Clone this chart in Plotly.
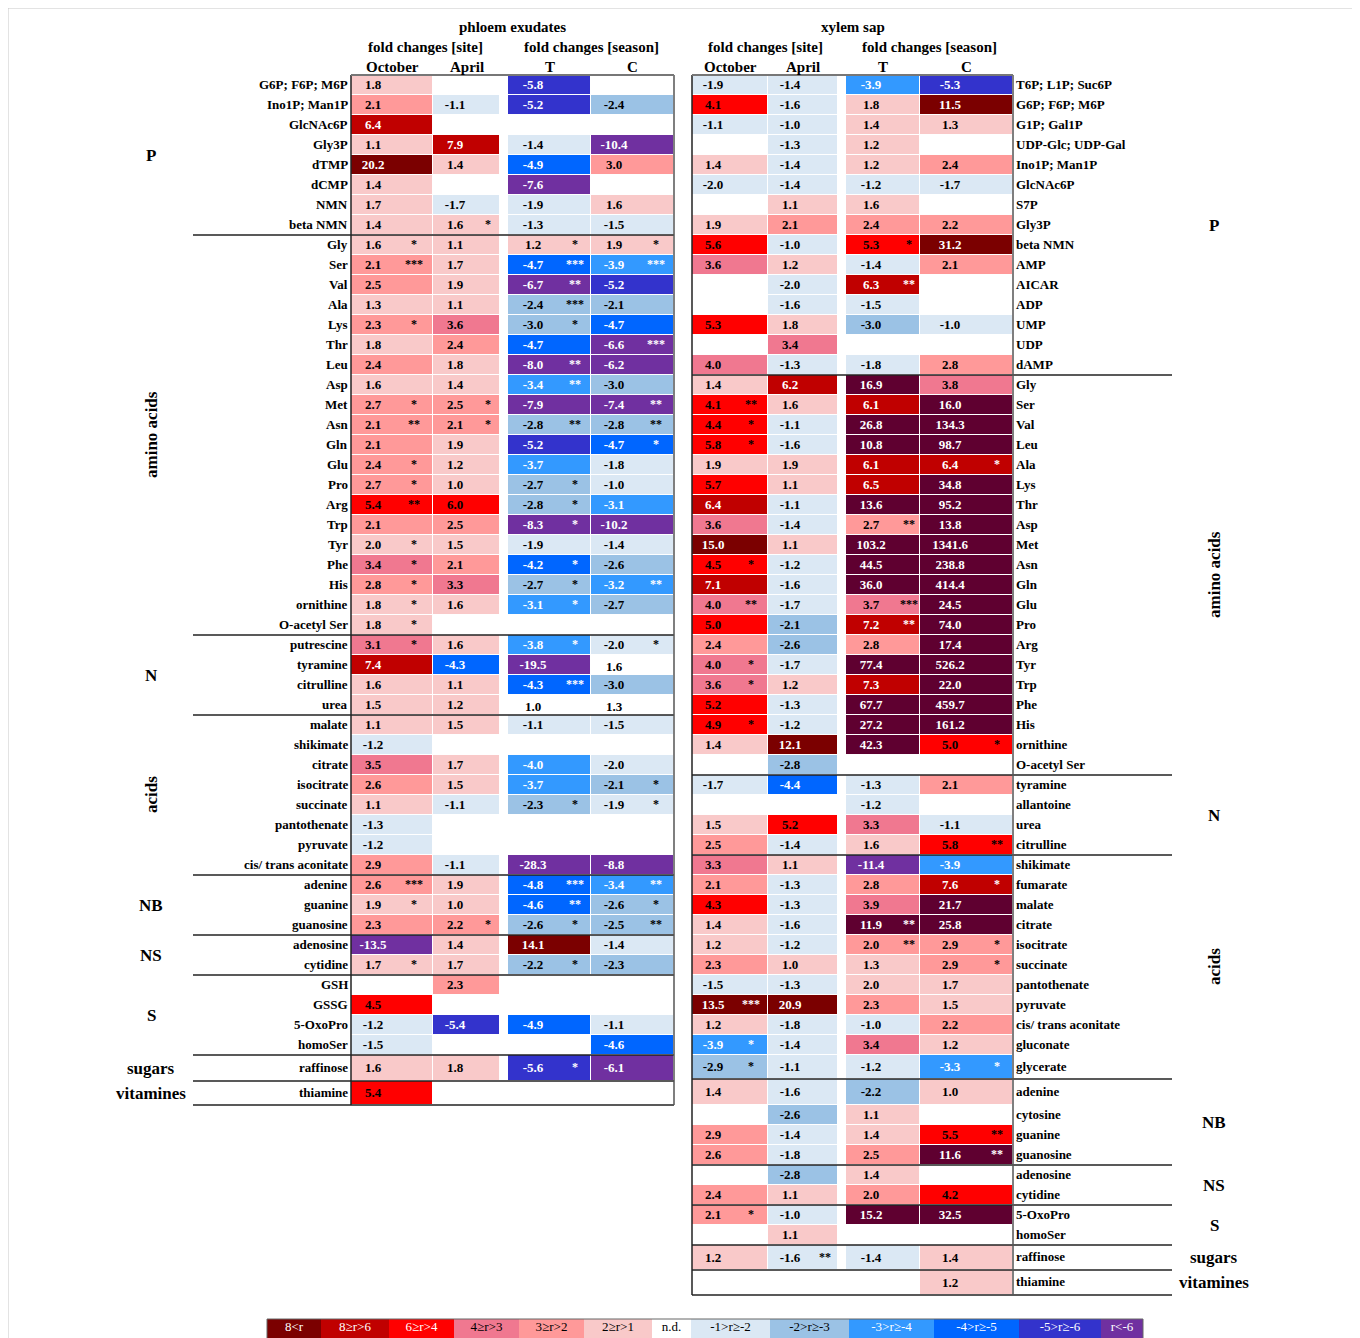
import plotly.graph_objects as go

# ============================ DATA ============================
columns = ["October", "April", "T", "C"]

# ---------- phloem exudates ----------
phloem_groups = ["P", "amino acids", "N", "acids", "NB", "NS", "S", "sugars", "vitamines"]
phloem_group_sizes = [8, 20, 4, 8, 3, 2, 4, 1, 1]
phloem_rows = [
    "G6P; F6P; M6P", "Ino1P; Man1P", "GlcNAc6P", "Gly3P", "dTMP", "dCMP", "NMN", "beta NMN",
    "Gly", "Ser", "Val", "Ala", "Lys", "Thr", "Leu", "Asp", "Met", "Asn", "Gln", "Glu", "Pro",
    "Arg", "Trp", "Tyr", "Phe", "His", "ornithine", "O-acetyl Ser",
    "putrescine", "tyramine", "citrulline", "urea",
    "malate", "shikimate", "citrate", "isocitrate", "succinate", "pantothenate", "pyruvate",
    "cis/ trans aconitate",
    "adenine", "guanine", "guanosine",
    "adenosine", "cytidine",
    "GSH", "GSSG", "5-OxoPro", "homoSer",
    "raffinose",
    "thiamine",
]
phloem_oct = [1.8, 2.1, 6.4, 1.1, 20.2, 1.4, 1.7, 1.4,
              1.6, 2.1, 2.5, 1.3, 2.3, 1.8, 2.4, 1.6, 2.7, 2.1, 2.1, 2.4, 2.7, 5.4, 2.1, 2.0, 3.4, 2.8, 1.8, 1.8,
              3.1, 7.4, 1.6, 1.5,
              1.1, -1.2, 3.5, 2.6, 1.1, -1.3, -1.2, 2.9,
              2.6, 1.9, 2.3,
              -13.5, 1.7,
              None, 4.5, -1.2, -1.5,
              1.6,
              5.4]
phloem_oct_sig = ["", "", "", "", "", "", "", "",
                  "*", "***", "", "", "*", "", "", "", "*", "**", "", "*", "*", "**", "", "*", "*", "*", "*", "*",
                  "*", "", "", "",
                  "", "", "", "", "", "", "", "",
                  "***", "*", "",
                  "", "*",
                  "", "", "", "",
                  "",
                  ""]
phloem_apr = [None, -1.1, None, 7.9, 1.4, None, -1.7, 1.6,
              1.1, 1.7, 1.9, 1.1, 3.6, 2.4, 1.8, 1.4, 2.5, 2.1, 1.9, 1.2, 1.0, 6.0, 2.5, 1.5, 2.1, 3.3, 1.6, None,
              1.6, -4.3, 1.1, 1.2,
              1.5, None, 1.7, 1.5, -1.1, None, None, -1.1,
              1.9, 1.0, 2.2,
              1.4, 1.7,
              2.3, None, -5.4, None,
              1.8,
              None]
phloem_apr_sig = ["", "", "", "", "", "", "", "*",
                  "", "", "", "", "", "", "", "", "*", "*", "", "", "", "", "", "", "", "", "", "",
                  "", "", "", "",
                  "", "", "", "", "", "", "", "",
                  "", "", "*",
                  "", "",
                  "", "", "", "",
                  "",
                  ""]
phloem_T = [-5.8, -5.2, None, -1.4, -4.9, -7.6, -1.9, -1.3,
            1.2, -4.7, -6.7, -2.4, -3.0, -4.7, -8.0, -3.4, -7.9, -2.8, -5.2, -3.7, -2.7, -2.8, -8.3, -1.9, -4.2, -2.7, -3.1, None,
            -3.8, -19.5, -4.3, 1.0,
            -1.1, None, -4.0, -3.7, -2.3, None, None, -28.3,
            -4.8, -4.6, -2.6,
            14.1, -2.2,
            None, None, -4.9, None,
            -5.6,
            None]
phloem_T_sig = ["", "", "", "", "", "", "", "",
                "*", "***", "**", "***", "*", "", "**", "**", "", "**", "", "", "*", "*", "*", "", "*", "*", "*", "",
                "*", "", "***", "",
                "", "", "", "", "*", "", "", "",
                "***", "**", "*",
                "", "*",
                "", "", "", "",
                "*",
                ""]
phloem_C = [None, -2.4, None, -10.4, 3.0, None, 1.6, -1.5,
            1.9, -3.9, -5.2, -2.1, -4.7, -6.6, -6.2, -3.0, -7.4, -2.8, -4.7, -1.8, -1.0, -3.1, -10.2, -1.4, -2.6, -3.2, -2.7, None,
            -2.0, 1.6, -3.0, 1.3,
            -1.5, None, -2.0, -2.1, -1.9, None, None, -8.8,
            -3.4, -2.6, -2.5,
            -1.4, -2.3,
            None, None, -1.1, -4.6,
            -6.1,
            None]
phloem_C_sig = ["", "", "", "", "", "", "", "",
                "*", "***", "", "", "", "***", "", "", "**", "**", "*", "", "", "", "", "", "", "**", "", "",
                "*", "", "", "",
                "", "", "", "*", "*", "", "", "",
                "**", "*", "**",
                "", "",
                "", "", "", "",
                "",
                ""]
# values printed without a coloured background (row, column)
phloem_unshaded = [("tyramine", "C"), ("urea", "T"), ("urea", "C")]

# ---------- xylem sap ----------
xylem_groups = ["P", "amino acids", "N", "acids", "NB", "NS", "S", "sugars", "vitamines"]
xylem_group_sizes = [15, 20, 4, 11, 4, 2, 2, 1, 1]
xylem_rows = [
    "T6P; L1P; Suc6P", "G6P; F6P; M6P", "G1P; Gal1P", "UDP-Glc; UDP-Gal", "Ino1P; Man1P", "GlcNAc6P",
    "S7P", "Gly3P", "beta NMN", "AMP", "AICAR", "ADP", "UMP", "UDP", "dAMP",
    "Gly", "Ser", "Val", "Leu", "Ala", "Lys", "Thr", "Asp", "Met", "Asn", "Gln", "Glu", "Pro",
    "Arg", "Tyr", "Trp", "Phe", "His", "ornithine", "O-acetyl Ser",
    "tyramine", "allantoine", "urea", "citrulline",
    "shikimate", "fumarate", "malate", "citrate", "isocitrate", "succinate", "pantothenate",
    "pyruvate", "cis/ trans aconitate", "gluconate", "glycerate",
    "adenine", "cytosine", "guanine", "guanosine",
    "adenosine", "cytidine",
    "5-OxoPro", "homoSer",
    "raffinose",
    "thiamine",
]
xylem_oct = [-1.9, 4.1, -1.1, None, 1.4, -2.0, None, 1.9, 5.6, 3.6, None, None, 5.3, None, 4.0,
             1.4, 4.1, 4.4, 5.8, 1.9, 5.7, 6.4, 3.6, 15.0, 4.5, 7.1, 4.0, 5.0, 2.4, 4.0, 3.6, 5.2, 4.9, 1.4, None,
             -1.7, None, 1.5, 2.5,
             3.3, 2.1, 4.3, 1.4, 1.2, 2.3, -1.5, 13.5, 1.2, -3.9, -2.9,
             1.4, None, 2.9, 2.6,
             None, 2.4,
             2.1, None,
             1.2,
             None]
xylem_oct_sig = ["", "", "", "", "", "", "", "", "", "", "", "", "", "", "",
                 "", "**", "*", "*", "", "", "", "", "", "*", "", "**", "", "", "*", "*", "", "*", "", "",
                 "", "", "", "",
                 "", "", "", "", "", "", "", "***", "", "*", "*",
                 "", "", "", "",
                 "", "",
                 "*", "",
                 "",
                 ""]
xylem_apr = [-1.4, -1.6, -1.0, -1.3, -1.4, -1.4, 1.1, 2.1, -1.0, 1.2, -2.0, -1.6, 1.8, 3.4, -1.3,
             6.2, 1.6, -1.1, -1.6, 1.9, 1.1, -1.1, -1.4, 1.1, -1.2, -1.6, -1.7, -2.1, -2.6, -1.7, 1.2, -1.3, -1.2, 12.1, -2.8,
             -4.4, None, 5.2, -1.4,
             1.1, -1.3, -1.3, -1.6, -1.2, 1.0, -1.3, 20.9, -1.8, -1.4, -1.1,
             -1.6, -2.6, -1.4, -1.8,
             -2.8, 1.1,
             -1.0, 1.1,
             -1.6,
             None]
xylem_apr_sig = [""] * 58 + ["**", ""]
xylem_T = [-3.9, 1.8, 1.4, 1.2, 1.2, -1.2, 1.6, 2.4, 5.3, -1.4, 6.3, -1.5, -3.0, None, -1.8,
           16.9, 6.1, 26.8, 10.8, 6.1, 6.5, 13.6, 2.7, 103.2, 44.5, 36.0, 3.7, 7.2, 2.8, 77.4, 7.3, 67.7, 27.2, 42.3, None,
           -1.3, -1.2, 3.3, 1.6,
           -11.4, 2.8, 3.9, 11.9, 2.04, 1.3, 2.0, 2.3, -1.0, 3.4, -1.2,
           -2.2, 1.1, 1.4, 2.5,
           1.4, 2.04,
           15.2, None,
           -1.4,
           None]
xylem_T_sig = ["", "", "", "", "", "", "", "", "*", "", "**", "", "", "", "",
               "", "", "", "", "", "", "", "**", "", "", "", "***", "**", "", "", "", "", "", "", "",
               "", "", "", "",
               "", "", "", "**", "**", "", "", "", "", "", "",
               "", "", "", "",
               "", "",
               "", "",
               "",
               ""]
xylem_C = [-5.3, 11.5, 1.3, None, 2.4, -1.7, None, 2.2, 31.2, 2.1, None, None, -1.0, None, 2.8,
           3.8, 16.0, 134.3, 98.7, 6.4, 34.8, 95.2, 13.8, 1341.6, 238.8, 414.4, 24.5, 74.0, 17.4, 526.2, 22.0, 459.7, 161.2, 5.0, None,
           2.1, None, -1.1, 5.8,
           -3.9, 7.6, 21.7, 25.8, 2.9, 2.9, 1.7, 1.5, 2.2, 1.2, -3.3,
           1.0, None, 5.5, 11.6,
           None, 4.2,
           32.5, None,
           1.4,
           1.2]
xylem_C_sig = ["", "", "", "", "", "", "", "", "", "", "", "", "", "", "",
               "", "", "", "", "*", "", "", "", "", "", "", "", "", "", "", "", "", "", "*", "",
               "", "", "", "**",
               "", "*", "", "", "*", "*", "", "", "", "", "*",
               "", "", "**", "**",
               "", "",
               "", "",
               "",
               ""]
xylem_unshaded = []

legend_labels = ["8<r", "8≥r>6", "6≥r>4", "4≥r>3", "3≥r>2", "2≥r>1", "n.d.",
                 "-1>r≥-2", "-2>r≥-3", "-3>r≥-4", "-4>r≥-5", "-5>r≥-6", "r<-6"]

# ============================ STYLE / LAYOUT ============================
FONT = "Liberation Serif"
# class 0 = extra dark shade used for very large season changes in xylem
CLASS_COLORS = ["#5F0030", "#7B0000", "#C00000", "#FF0000", "#F07890", "#FF9999", "#F9C9C9",
                "#FFFFFF", "#DBE8F4", "#9BC2E5", "#3399FF", "#0066FF", "#3333CC", "#7030A0"]
WHITE_TEXT = {0, 1, 2, 10, 11, 12, 13}
N_CLASSES = len(CLASS_COLORS)

colorscale = []
for k, c in enumerate(CLASS_COLORS):
    colorscale.append([k / N_CLASSES, c])
    colorscale.append([(k + 1) / N_CLASSES, c])


def value_class(v, dark_large=False):
    if v is None:
        return None
    if dark_large and v > 10:
        return 0
    if v > 8:
        return 1
    if v > 6:
        return 2
    if v > 4:
        return 3
    if v > 3:
        return 4
    if v > 2:
        return 5
    if v > 0:
        return 6
    if v >= -2:
        return 8
    if v >= -3:
        return 9
    if v >= -4:
        return 10
    if v >= -5:
        return 11
    if v >= -6:
        return 12
    return 13


TABLES = [
    dict(name="phloem exudates", rows=phloem_rows, groups=phloem_groups, sizes=phloem_group_sizes,
         vals=[phloem_oct, phloem_apr, phloem_T, phloem_C],
         sigs=[phloem_oct_sig, phloem_apr_sig, phloem_T_sig, phloem_C_sig],
         unshaded=phloem_unshaded, dark_large=False,
         col_edges=[351, 433, 500, 508, 591, 674], val_x=[373, 455, 533, 614], star_x=[414, 488, 575, 656],
         label_x=350, label_anchor="right", group_x=151, sep=(193, 674), tall={49: 26, 50: 24}),
    dict(name="xylem sap", rows=xylem_rows, groups=xylem_groups, sizes=xylem_group_sizes,
         vals=[xylem_oct, xylem_apr, xylem_T, xylem_C],
         sigs=[xylem_oct_sig, xylem_apr_sig, xylem_T_sig, xylem_C_sig],
         unshaded=xylem_unshaded, dark_large=True,
         col_edges=[692, 768, 838, 846, 920, 1013], val_x=[713, 790, 871, 950], star_x=[751, 825, 909, 997],
         label_x=1014, label_anchor="left", group_x=1214, sep=(692, 1172), tall={49: 24, 50: 26, 58: 25, 59: 25}),
]
TOP = 75
ROW_H = 20
PAGE_OFFSET = 8   # the page body margin shifts the figure by 8 px; compensate in the axis ranges

fig = go.Figure()
shapes = []
annotations = []


def ann(x, y, text, size, anchor="center", bold=True, angle=0, color="black"):
    annotations.append(dict(x=x, y=y, xref="x", yref="y", text=text, showarrow=False,
                            xanchor=anchor, yanchor="middle", textangle=angle,
                            font=dict(family=FONT, size=size, color=color,
                                      weight="bold" if bold else "normal")))


for t in TABLES:
    n = len(t["rows"])
    edges = [TOP]
    for i in range(n):
        edges.append(edges[-1] + t["tall"].get(i, ROW_H))
    centers = [(edges[i] + edges[i + 1]) / 2 for i in range(n)]
    groups_of_row = []
    for g, s in zip(t["groups"], t["sizes"]):
        groups_of_row += [g] * s

    # heatmap cells (column index 2 is the blank gap between site and season blocks)
    z = []
    for i in range(n):
        zr = []
        for j in range(4):
            v = t["vals"][j][i]
            season = j >= 2
            if (t["rows"][i], columns[j]) in t["unshaded"]:
                cls = None
            else:
                cls = value_class(v, t["dark_large"] and season and groups_of_row[i] != "P")
            zr.append(cls)
        zr.insert(2, None)
        z.append(zr)
    fig.add_trace(go.Heatmap(z=z, x=t["col_edges"], y=edges, colorscale=colorscale,
                             zmin=-0.5, zmax=N_CLASSES - 0.5, showscale=False, xgap=1, ygap=1,
                             hoverinfo="skip"))

    # values and significance stars
    tx, ty, tt, tc = [], [], [], []
    sx, sy, st, sc = [], [], [], []
    for i in range(n):
        for j in range(4):
            v = t["vals"][j][i]
            if v is None:
                continue
            unsh = (t["rows"][i], columns[j]) in t["unshaded"]
            cls = None if unsh else z[i][j if j < 2 else j + 1]
            col = "white" if cls in WHITE_TEXT else "black"
            tx.append(t["val_x"][j])
            ty.append(centers[i] + (3 if unsh else 1))
            tt.append(f"{v:.1f}")
            tc.append(col)
            s = t["sigs"][j][i]
            if s:
                sx.append(t["star_x"][j])
                sy.append(centers[i])
                st.append(s)
                sc.append(col)
    fig.add_trace(go.Scatter(x=tx, y=ty, text=tt, mode="text", hoverinfo="skip", cliponaxis=False,
                             textfont=dict(family=FONT, size=13, color=tc, weight="bold")))
    fig.add_trace(go.Scatter(x=sx, y=sy, text=st, mode="text", hoverinfo="skip", cliponaxis=False,
                             textfont=dict(family=FONT, size=12, color=sc, weight="bold")))

    # row labels
    for i in range(n):
        ann(t["label_x"], centers[i] - 1, t["rows"][i], 13, anchor=t["label_anchor"])

    # group labels and separators
    start = 0
    for g, s in zip(t["groups"], t["sizes"]):
        y0, y1 = edges[start], edges[start + s]
        angle = -90 if g in ("amino acids", "acids") else 0
        ann(t["group_x"], (y0 + y1) / 2, g, 17, angle=angle)
        shapes.append(dict(type="line", xref="x", yref="y", x0=t["sep"][0], x1=t["sep"][1],
                           y0=y1, y1=y1, line=dict(color="#222222", width=1.5)))
        start += s

    # table box
    ce = t["col_edges"]
    shapes.append(dict(type="line", xref="x", yref="y", x0=ce[0], x1=ce[0], y0=TOP, y1=edges[-1],
                       line=dict(color="#222222", width=1.5)))
    shapes.append(dict(type="line", xref="x", yref="y", x0=ce[-1], x1=ce[-1], y0=TOP, y1=edges[-1],
                       line=dict(color="#555555", width=1.5)))
    shapes.append(dict(type="line", xref="x", yref="y", x0=ce[0], x1=ce[-1], y0=TOP, y1=TOP,
                       line=dict(color="#777777", width=2)))

    # headers
    ann((ce[0] + ce[-1]) / 2, 27, t["name"], 15)
    ann((ce[0] + ce[2]) / 2, 47, "fold changes [site]", 15)
    ann((ce[3] + ce[5]) / 2, 47, "fold changes [season]", 15)
    col_centers = [(ce[0] + ce[1]) / 2, (ce[1] + ce[2]) / 2, (ce[3] + ce[4]) / 2, (ce[4] + ce[5]) / 2]
    for cx, cname in zip(col_centers, columns):
        ann(cx, 67, cname, 15)

# ---------- colour key ----------
LEG_EDGES = [267, 321, 389, 454, 519, 584, 652, 691, 770, 849, 934, 1019, 1101, 1143]
LEG_Y = (1319, 1339)
leg_classes = list(range(1, N_CLASSES))
fig.add_trace(go.Heatmap(z=[leg_classes], x=LEG_EDGES, y=list(LEG_Y), colorscale=colorscale,
                         zmin=-0.5, zmax=N_CLASSES - 0.5, showscale=False, hoverinfo="skip"))
leg_white = {1, 2, 3, 10, 11, 12, 13}
fig.add_trace(go.Scatter(
    x=[(LEG_EDGES[k] + LEG_EDGES[k + 1]) / 2 for k in range(len(legend_labels))],
    y=[1328] * len(legend_labels),
    text=legend_labels, mode="text", hoverinfo="skip", cliponaxis=False,
    textfont=dict(family=FONT, size=13,
                  color=["white" if c in leg_white else "black" for c in leg_classes])))
shapes.append(dict(type="rect", xref="x", yref="y", x0=LEG_EDGES[0], x1=LEG_EDGES[-1],
                   y0=LEG_Y[0], y1=LEG_Y[1], line=dict(color="#666666", width=1)))

# outer frame
shapes.append(dict(type="rect", xref="x", yref="y", x0=8, x1=1355, y0=8, y1=1360,
                   line=dict(color="#C8C8C8", width=1)))

W, H = 1360, 1338
fig.update_layout(
    width=W, height=H, margin=dict(l=0, r=0, t=0, b=0),
    paper_bgcolor="white", plot_bgcolor="white", showlegend=False,
    xaxis=dict(range=[PAGE_OFFSET, W + PAGE_OFFSET], visible=False, fixedrange=True),
    yaxis=dict(range=[H + PAGE_OFFSET, PAGE_OFFSET], visible=False, fixedrange=True),
    shapes=shapes, annotations=annotations,
)
fig.write_html("out.html")
